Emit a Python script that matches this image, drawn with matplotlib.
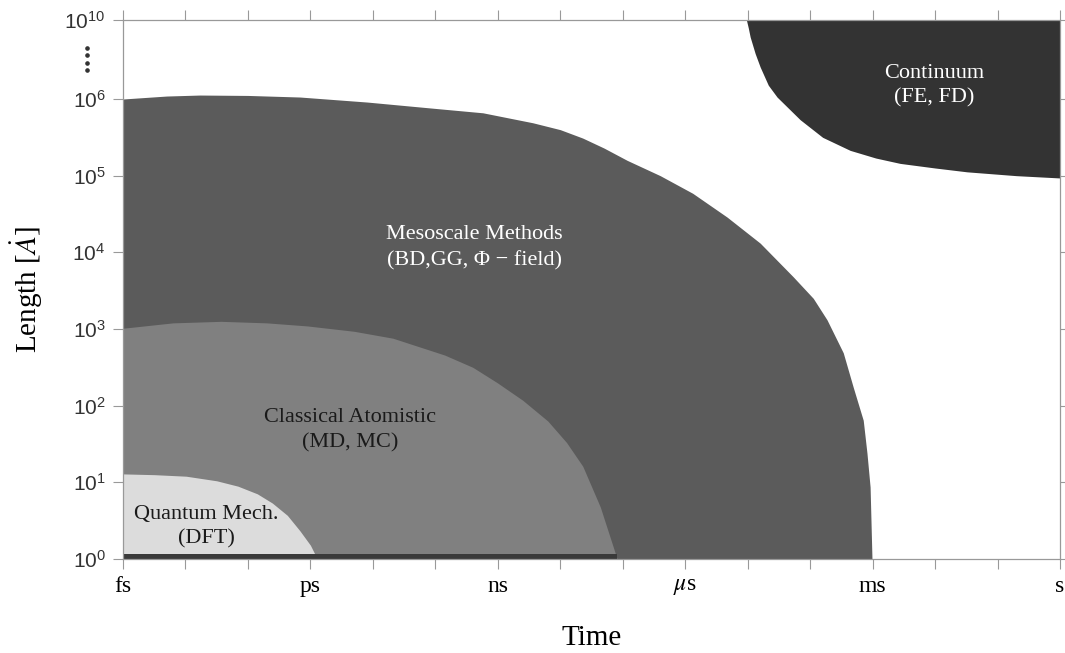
import numpy as np
import matplotlib.pyplot as plt
from matplotlib.ticker import FixedLocator, NullLocator, NullFormatter

plt.rcParams['mathtext.fontset'] = 'stix'
plt.rcParams['font.family'] = ['Liberation Serif', 'DejaVu Serif']

# log10(time / s) and log10(length / Angstrom)
meso_logt = [-15, -14.3, -13.77, -13.0, -12.17, -11.09, -10.04, -9.24, -8.44, -8.0,
             -7.64, -7.3, -6.93, -6.4, -5.88, -5.33, -4.80, -4.27, -3.95, -3.73,
             -3.47, -3.31, -3.15, -3.09, -3.04, -3.01]
meso_logL = [6.0, 6.15, 6.2, 6.18, 6.1, 5.96, 5.88, 5.82, 5.69, 5.60,
             5.49, 5.36, 5.20, 5.0, 4.77, 4.46, 4.12, 3.68, 3.40, 3.12,
             2.69, 2.24, 1.81, 1.38, 0.94, 0.0]

classic_logt = [-15, -14.2, -13.43, -12.7, -12.05, -11.3, -10.68, -9.85, -9.4, -9.01,
                -8.6, -8.20, -7.9, -7.64, -7.36, -7.09]
classic_logL = [3.01, 3.08, 3.10, 3.08, 3.04, 2.97, 2.88, 2.66, 2.50, 2.30,
                2.07, 1.80, 1.52, 1.21, 0.68, 0.0]

quantum_logt = [-15, -14.5, -13.99, -13.5, -13.16, -12.85, -12.61, -12.37, -12.17, -12.0, -11.89]
quantum_logL = [1.11, 1.10, 1.08, 1.02, 0.95, 0.85, 0.73, 0.57, 0.37, 0.18, 0.0]

cont_logt = [-5.02, -4.99, -4.96, -4.88, -4.80, -4.67, -4.53, -4.16, -3.8, -3.36,
             -2.95, -2.56, -2.0, -1.49, -0.7, 0.0]
cont_logL = [10.0, 9.6, 9.14, 8.3, 7.62, 6.7, 6.10, 5.73, 5.50, 5.33,
             5.23, 5.16, 5.10, 5.05, 5.0, 4.97]

# thin dark band along the bottom
band_logt = [-15, -7.09]
band_logL = [0.06, 0.06]

time_ticks = [-15, -12, -9, -6, -3, 0]
time_labels = ['fs', 'ps', 'ns', r'$\mu$s', 'ms', 's']
len_ticks = [0, 1, 2, 3, 4, 5, 6, 10]

# axis is broken above 10^6: four decades squeezed into about one
squeeze = 79 / 76.67 / 4


def fwd(L):
    lg = np.log10(np.clip(np.asarray(L, dtype=float), 1e-300, None))
    return np.where(lg <= 6, lg, 6 + (lg - 6) * squeeze)


def inv(u):
    u = np.asarray(u, dtype=float)
    with np.errstate(over='ignore'):
        return np.where(u <= 6, 10.0 ** u, 10.0 ** (6 + (u - 6) / squeeze))


fig = plt.figure(figsize=(10.65, 6.53), dpi=100)
ax = fig.add_axes([123 / 1065, 94 / 653, 937 / 1065, 539 / 653])
ax.set_xscale('log')
ax.set_yscale('function', functions=(fwd, inv))

p = lambda a: 10.0 ** np.array(a)

ax.fill_between(p(meso_logt), p(meso_logL), 1, color='#5b5b5b', lw=0)
ax.fill_between(p(classic_logt), p(classic_logL), 1, color='#808080', lw=0)
ax.fill_between(p(quantum_logt), p(quantum_logL), 1, color='#dcdcdc', lw=0)
ax.fill_between(p(band_logt), p(band_logL), 1, color='#3a3a3a', lw=0)
ax.fill_between(p(cont_logt), p(cont_logL), 1e10, color='#333333', lw=0)

ax.set_xlim(1e-15, 1)
ax.set_ylim(1, 1e10)

ax.xaxis.set_major_locator(FixedLocator(p(time_ticks)))
ax.xaxis.set_minor_locator(FixedLocator([10.0 ** k for k in range(-15, 1) if k not in time_ticks]))
ax.xaxis.set_minor_formatter(NullFormatter())
ax.set_xticklabels(time_labels, fontsize=17)
ax.yaxis.set_major_locator(FixedLocator(p(len_ticks)))
ax.yaxis.set_minor_locator(NullLocator())
ax.set_yticklabels([r'$\mathregular{10^{%d}}$' % k for k in len_ticks],
                   fontsize=15, family='Liberation Sans', color='#333333')

ax.tick_params(which='both', direction='out', length=7.5, width=0.8, color='#999999',
               top=True, right=True, labeltop=False, labelright=False)
ax.tick_params(axis='x', pad=5)
ax.tick_params(axis='y', pad=5)
for s in ax.spines.values():
    s.set_color('#999999')
    s.set_linewidth(0.9)

ax.set_xlabel('Time', fontsize=21, labelpad=20)
ax.set_ylabel(r'Length [$\dot{A}$]', fontsize=21, labelpad=14)

# vertical ellipsis marking the axis break
ax.plot([-0.0385] * 4, np.linspace(0.907, 0.948, 4), 'o', ms=2.3, color='#333333',
        transform=ax.transAxes, clip_on=False)

ax.text(10 ** -9.37, 10 ** 4.06, 'Mesoscale Methods\n(BD,GG, \u03a6 \u2212 field)',
        ha='center', va='center', fontsize=16, color='white', linespacing=1.45)
ax.text(10 ** -11.37, 10 ** 1.68, 'Classical Atomistic\n(MD, MC)',
        ha='center', va='center', fontsize=16, color='#1a1a1a', linespacing=1.5)
ax.text(10 ** -13.66, 10 ** 0.42, 'Quantum Mech.\n(DFT)',
        ha='center', va='center', fontsize=16, color='#1a1a1a', linespacing=1.4)
ax.text(10 ** -2.02, inv(6 + 13 / 76.67), 'Continuum\n(FE, FD)',
        ha='center', va='center', fontsize=16, color='white', linespacing=1.4)

fig.savefig('out.png', dpi=100)
